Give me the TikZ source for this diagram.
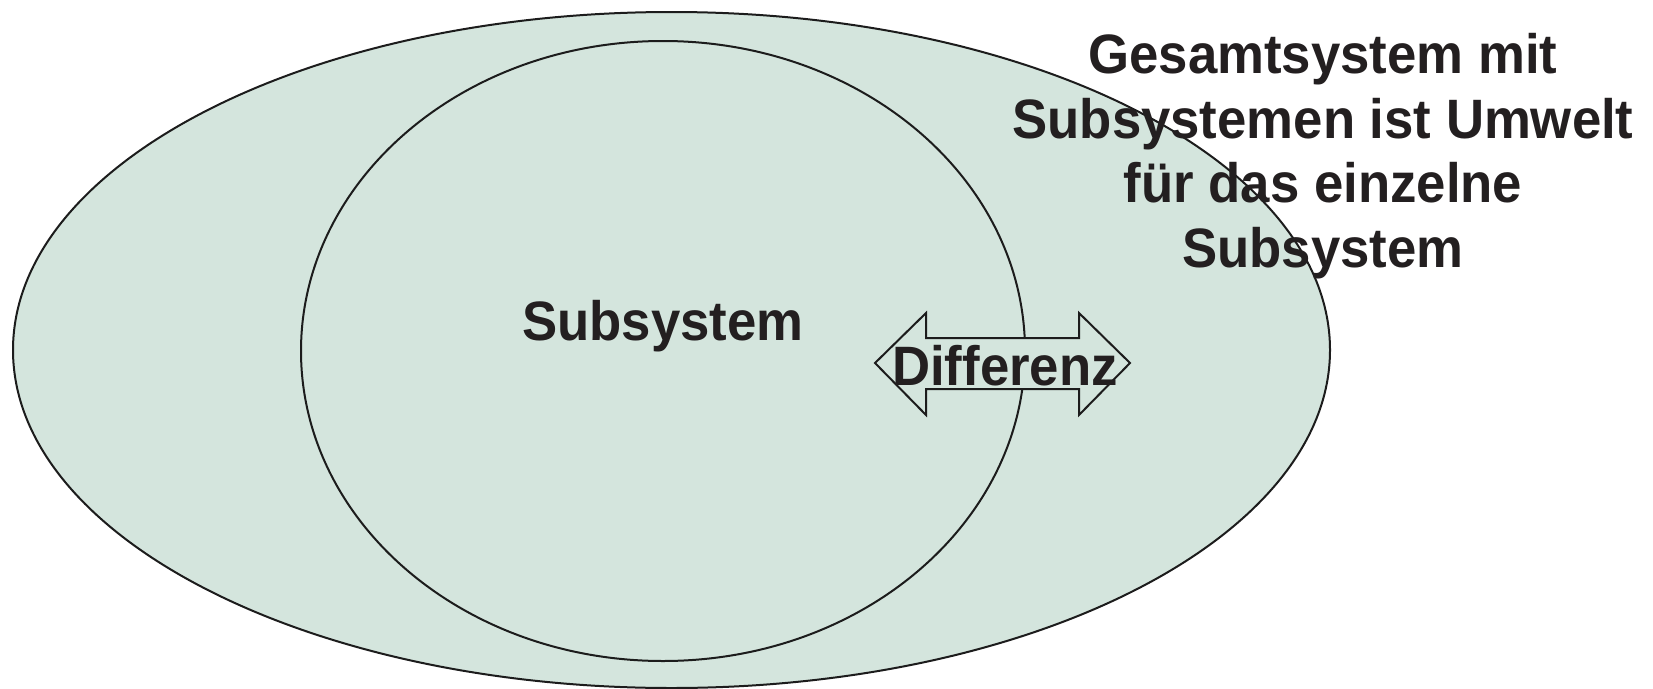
\documentclass[tikz,border=0pt]{standalone}
\usepackage{fontspec}
\newfontfamily\labelfont[FakeStretch=0.95]{Liberation Sans}
\usetikzlibrary{shapes.geometric}
\definecolor{areafill}{HTML}{D4E5DD}
\definecolor{inkline}{HTML}{1C1C1C}
\definecolor{inktext}{HTML}{231F20}
\tikzset{
  region/.style={ellipse, draw=inkline, fill=areafill, line width=2pt, inner sep=0pt},
  bigtext/.style={font=\labelfont\bfseries\fontsize{55.5}{64.5}\selectfont, text=inktext, inner sep=0pt},
  arrowbody/.style={draw=inkline, fill=areafill, line width=2pt, line join=miter}
}
\begin{document}
\begin{tikzpicture}[x=1pt, y=-1pt]
  \useasboundingbox (0,0) rectangle (1653,688);
  % whole system and one subsystem
  \node[region, minimum width=1317pt, minimum height=676pt] (outer) at (671.5,350) {};
  \node[region, minimum width=724pt, minimum height=620pt] (inner) at (663,351) {};
  % double arrow between subsystem and environment
  \coordinate (ltip) at (875,363);
  \coordinate (rtip) at (1130,363);
  \draw[arrowbody] (ltip) -- (926,313) -- (926,338) -- (1079,338) -- (1079,313)
    -- (rtip) -- (1079,415) -- (1079,389) -- (926,389) -- (926,415) -- cycle;
  % labels
  \node[bigtext, anchor=base] (sub) at (663,340) {Subsystem};
  \node[bigtext, anchor=base] (diff) at (1005,385) {Differenz};
  \node[bigtext, anchor=base, align=center] (env) at (1323,267)
    {Gesamtsystem mit\\Subsystemen ist Umwelt\\für das einzelne\\Subsystem};
\end{tikzpicture}
\end{document}
